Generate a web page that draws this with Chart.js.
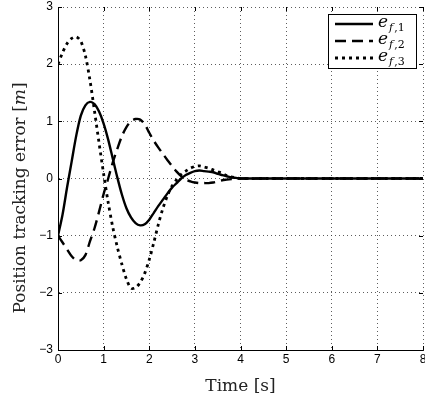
<!DOCTYPE html>
<html>
<head>
<meta charset="utf-8">
<script src="https://cdn.jsdelivr.net/npm/chart.js@4.4.1/dist/chart.umd.min.js"></script>
<style>
html,body{margin:0;padding:0;background:#fff;}
#wrap{width:425px;height:397px;}
</style>
</head>
<body>
<div id="wrap"><canvas id="c" width="425" height="397"></canvas></div>
<script>
const times = [0,0.1,0.2,0.3,0.4,0.5,0.6,0.7,0.8,0.9,
  1.0,1.1,1.2,1.3,1.4,1.5,1.6,1.7,1.8,1.9,
  2.0,2.1,2.2,2.3,2.4,2.5,2.6,2.7,2.8,2.9,
  3.0,3.1,3.2,3.3,3.4,3.5,3.6,3.7,3.8,3.9,
  4.0,4.5,5.0,5.5,6.0,6.5,7.0,7.5,8.0];
const e1 = [-1.0,-0.63,-0.15,0.3,0.75,1.1,1.28,1.34,1.3,1.17,
  0.96,0.68,0.35,0.02,-0.28,-0.52,-0.68,-0.78,-0.82,-0.8,
  -0.72,-0.6,-0.48,-0.37,-0.26,-0.16,-0.08,0.0,0.06,0.1,
  0.13,0.14,0.13,0.12,0.11,0.08,0.06,0.04,0.02,0.01,
  0,0,0,0,0,0,0,0,0];
const e2 = [-1.0,-1.12,-1.24,-1.36,-1.43,-1.43,-1.34,-1.1,-0.87,-0.58,
  -0.27,0.0,0.28,0.52,0.74,0.9,1.0,1.04,1.03,0.95,
  0.8,0.66,0.54,0.43,0.32,0.22,0.12,0.04,-0.02,-0.05,
  -0.07,-0.08,-0.08,-0.08,-0.07,-0.05,-0.03,-0.02,-0.01,0,
  0,0,0,0,0,0,0,0,0];
const e3 = [2.0,2.2,2.36,2.45,2.48,2.4,2.15,1.72,1.18,0.62,
  0.08,-0.42,-0.85,-1.2,-1.5,-1.76,-1.92,-1.91,-1.82,-1.66,
  -1.42,-1.12,-0.8,-0.52,-0.3,-0.13,-0.02,0.07,0.13,0.18,
  0.21,0.22,0.2,0.18,0.15,0.12,0.09,0.05,0.03,0.01,
  0,0,0,0,0,0,0,0,0];
const seriesNames = ['1','2','3'];
const xTitle = 'Time [s]';
const yTitleParts = ['Position tracking error [', 'm', ']'];

function pts(vals){ return times.map((t,i)=>({x:t,y:vals[i]})); }

const serif = '"DejaVu Serif", serif';
const sans = '"Liberation Sans", Arial, sans-serif';

const overlay = {
  id:'overlay',
  afterDraw(chart){
    const ctx = chart.ctx, xs = chart.scales.x, ys = chart.scales.y, a = chart.chartArea;
    ctx.save();
    ctx.strokeStyle = '#000'; ctx.lineWidth = 1; ctx.setLineDash([]);
    for(let v=0; v<=8; v++){
      const px = Math.round(xs.getPixelForValue(v))+0.5;
      ctx.beginPath(); ctx.moveTo(px,a.bottom); ctx.lineTo(px,a.bottom-4);
      ctx.moveTo(px,a.top); ctx.lineTo(px,a.top+4); ctx.stroke();
    }
    for(let v=-3; v<=3; v++){
      const py = Math.round(ys.getPixelForValue(v))+0.5;
      ctx.beginPath(); ctx.moveTo(a.left,py); ctx.lineTo(a.left+4,py);
      ctx.moveTo(a.right,py); ctx.lineTo(a.right-4,py); ctx.stroke();
    }
    ctx.save();
    ctx.translate(21, 198);
    ctx.rotate(-Math.PI/2);
    ctx.fillStyle = '#222';
    ctx.textBaseline = 'middle';
    const f1 = '17px '+serif, f2 = 'italic 17px '+serif;
    ctx.font = f1; const w1 = ctx.measureText(yTitleParts[0]).width, w3 = ctx.measureText(yTitleParts[2]).width;
    ctx.font = f2; const w2 = ctx.measureText(yTitleParts[1]).width;
    let x0 = -(w1+w2+w3)/2;
    ctx.font = f1; ctx.textAlign='left'; ctx.fillText(yTitleParts[0], x0, 0);
    ctx.font = f2; ctx.fillText(yTitleParts[1], x0+w1, 0);
    ctx.font = f1; ctx.fillText(yTitleParts[2], x0+w1+w2, 0);
    ctx.restore();
    const bx = 328, by = 14, bw = 88, bh = 54;
    ctx.fillStyle = '#fff'; ctx.fillRect(bx,by,bw,bh);
    ctx.strokeStyle = '#000'; ctx.lineWidth = 1; ctx.setLineDash([]);
    ctx.strokeRect(bx+0.5,by+0.5,bw,bh);
    chart.data.datasets.forEach((ds,i)=>{
      const yy = by + 10 + i*17;
      ctx.save();
      ctx.strokeStyle = ds.borderColor; ctx.lineWidth = ds.borderWidth;
      ctx.setLineDash(ds.borderDash || []);
      ctx.beginPath(); ctx.moveTo(bx+7, yy); ctx.lineTo(bx+45, yy); ctx.stroke();
      ctx.restore();
      ctx.fillStyle = '#000'; ctx.textBaseline='alphabetic'; ctx.textAlign='left';
      ctx.font = 'italic 17px '+serif;
      ctx.fillText('e', bx+50, yy+3);
      const ew = ctx.measureText('e').width;
      ctx.font = 'italic 11px '+serif;
      ctx.fillText('f', bx+50+ew+1, yy+7);
      const fw = ctx.measureText('f').width;
      ctx.font = '11px '+serif;
      ctx.fillText(','+seriesNames[i], bx+50+ew+1+fw+1, yy+7);
    });
    ctx.restore();
  }
};

new Chart(document.getElementById('c'), {
  type:'line',
  data:{datasets:[
    {label:'e_f,1', data:pts(e1), borderColor:'#000', borderWidth:2.4, borderDash:[], pointRadius:0, tension:0.3, fill:false},
    {label:'e_f,2', data:pts(e2), borderColor:'#000', borderWidth:2.4, borderDash:[11,6], pointRadius:0, tension:0.3, fill:false},
    {label:'e_f,3', data:pts(e3), borderColor:'#000', borderWidth:2.8, borderDash:[3,4], pointRadius:0, tension:0.3, fill:false}
  ]},
  options:{
    responsive:false, animation:false,
    layout:{padding:{top:7,right:2,left:0,bottom:0}},
    plugins:{legend:{display:false}, tooltip:{enabled:false}},
    scales:{
      x:{type:'linear', min:0, max:8,
        ticks:{stepSize:1, color:'#000', font:{family:sans, size:12}, padding:2, maxRotation:0},
        grid:{color:'#333', lineWidth:0.8, drawTicks:false},
        border:{display:true, color:'#000', width:1, dash:[1,3]},
        title:{display:true, text:xTitle, color:'#222', font:{family:serif, size:17}, padding:{top:1,bottom:0}},
        afterFit(s){ s.height = 47; s.paddingLeft = 0; s.paddingRight = 0; }
      },
      y:{type:'linear', min:-3, max:3,
        ticks:{stepSize:1, color:'#000', font:{family:sans, size:12}, padding:5,
          callback:(v)=>String(v).replace('-','\u2212')},
        grid:{color:'#333', lineWidth:0.8, drawTicks:false},
        border:{display:true, color:'#000', width:1, dash:[1,3]},
        afterFit(s){ s.width = 58; s.paddingTop = 0; s.paddingBottom = 0; }
      }
    }
  },
  plugins:[overlay]
});
</script>
</body>
</html>
